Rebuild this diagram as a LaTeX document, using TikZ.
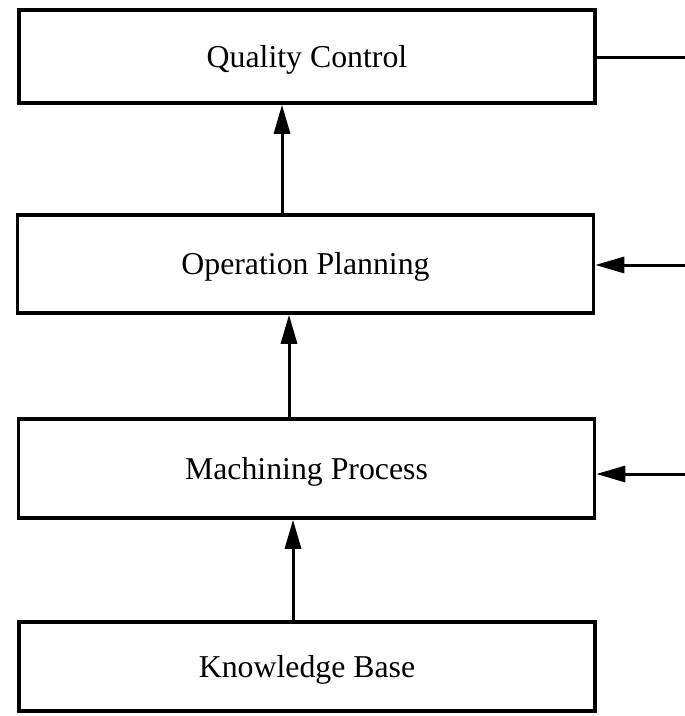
\documentclass[tikz,border=0pt]{standalone}
\usepackage{fontspec}
\setmainfont{Liberation Serif}
\usetikzlibrary{arrows.meta}
\begin{document}
\begin{tikzpicture}[x=1pt,y=-1pt,
  stage/.style={draw,line width=3.5pt,minimum width=576pt,inner sep=0pt,
    text height=21pt,text depth=0pt,
    font=\fontsize{31.8}{36}\selectfont},
  arr/.style={line width=3pt,-{Triangle[length=29pt,width=16pt]}},
  link/.style={line width=3pt}]
  \useasboundingbox (0,0) rectangle (685,716);
  % the four stages, top to bottom
  \node[stage,minimum height=93pt]  (qc) at (307,56.5)  {Quality Control};
  \node[stage,minimum height=98pt]  (op) at (305.5,264) {Operation Planning};
  \node[stage,minimum height=99pt]  (mp) at (306.5,468.5) {Machining Process};
  \node[stage,minimum height=89pt]  (kb) at (307,666.5) {Knowledge Base};
  % flow upwards between stages
  \draw[arr] (op.north -| 282,0) -- (qc.south -| 282,0);
  \draw[arr] (mp.north -| 289,0) -- (op.south -| 289,0);
  \draw[arr] (kb.north -| 293,0) -- (mp.south -| 293,0);
  % side connections on the right
  \coordinate (qcout) at (685,57);
  \coordinate (opin)  at (685,265);
  \coordinate (mpin)  at (685,474);
  \draw[link] (qc.east |- qcout) -- (qcout);
  \draw[arr] (opin) -- (op.east |- opin);
  \draw[arr] (mpin) -- (mp.east |- mpin);
\end{tikzpicture}
\end{document}
